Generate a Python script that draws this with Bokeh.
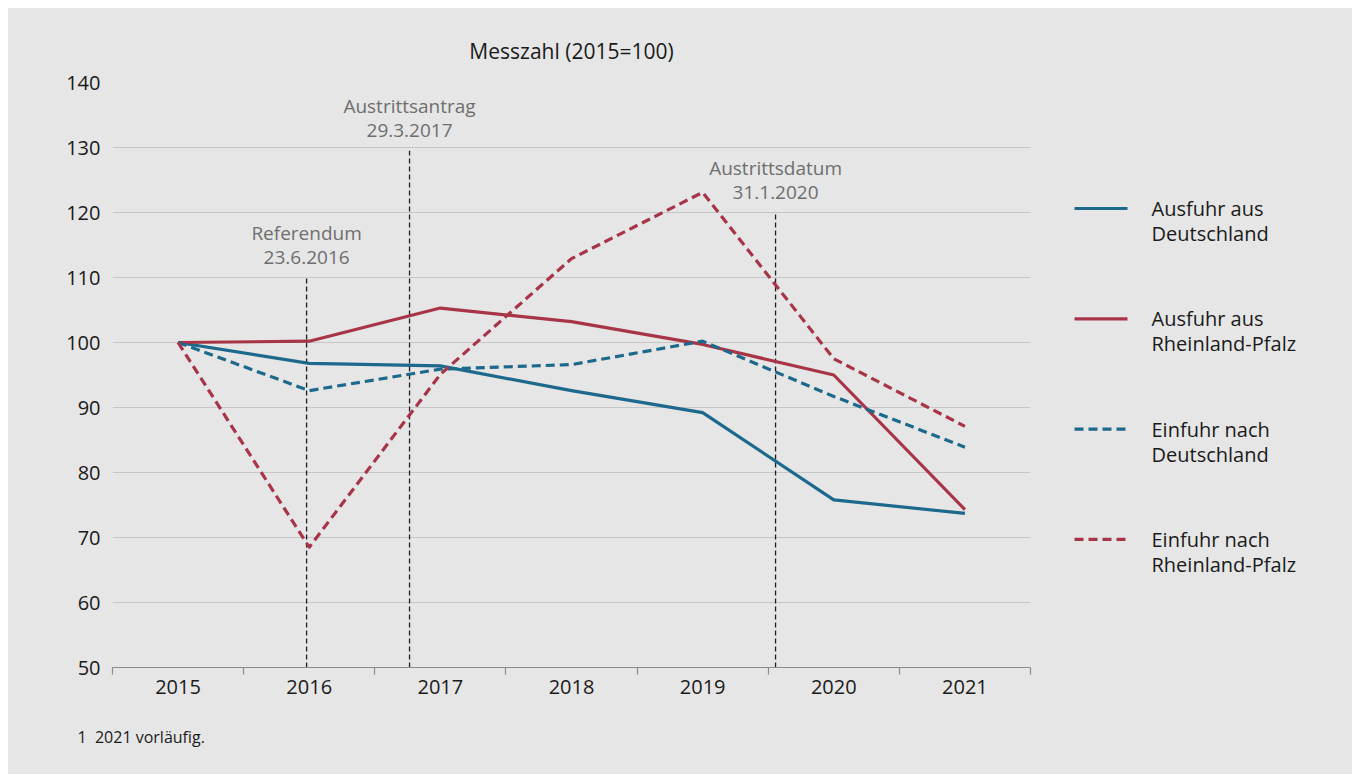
from bokeh.plotting import figure
from bokeh.models import Range1d, FixedTicker, Title
from bokeh.layouts import row
from bokeh.core.properties import value
from bokeh.embed import file_html
from bokeh.resources import INLINE

# ---------------- data ----------------
years = [2015, 2016, 2017, 2018, 2019, 2020, 2021]
year_labels = ["2015", "2016", "2017", "2018", "2019", "2020", "2021"]
ausfuhr_de = [100.0, 96.8, 96.4, 92.6, 89.2, 75.8, 73.7]
ausfuhr_rlp = [100.0, 100.2, 105.3, 103.2, 99.7, 95.0, 74.3]
einfuhr_de = [100.0, 92.6, 95.9, 96.6, 100.2, 91.7, 83.9]
einfuhr_rlp = [100.0, 68.5, 95.1, 112.9, 123.1, 97.5, 87.1]

series_names = [
    ("Ausfuhr aus", "Deutschland"),
    ("Ausfuhr aus", "Rheinland-Pfalz"),
    ("Einfuhr nach", "Deutschland"),
    ("Einfuhr nach", "Rheinland-Pfalz"),
]

event_names = ["Referendum", "Austrittsantrag", "Austrittsdatum"]
event_dates = ["23.6.2016", "29.3.2017", "31.1.2020"]
event_x = [2015.98, 2016.765, 2019.556]   # position on the year scale
event_top = [110.0, 129.5, 120.0]

y_ticks = [50, 60, 70, 80, 90, 100, 110, 120, 130, 140]
title_text = "Messzahl (2015=100)"
footnote = "1\u00a0\u00a02021 vorläufig."

# ---------------- styles ----------------
BG = "#e6e6e6"
BLUE = "#1c698c"
RED = "#a83448"
GRID = "#c6c6c6"
TXT = "#1a1a1a"
GRAYTXT = "#6e6e6e"
FONT = "Open Sans"
FS = "20px"

MAIN_W, H = 1050, 766
p = figure(width=MAIN_W, height=H, output_backend="svg", toolbar_location=None,
           x_range=Range1d(2014.5, 2021.5), y_range=Range1d(50, 140),
           min_border_left=104, min_border_right=28, min_border_top=74,
           min_border_bottom=107)
p.background_fill_color = None
p.border_fill_color = BG
p.outline_line_color = None

# title
p.title.text = title_text
p.title.align = "center"
p.title.text_font = FONT
p.title.text_font_size = "21px"
p.title.text_font_style = "normal"
p.title.text_color = TXT
p.title.standoff = 35

# x axis
xa = p.xaxis[0]
xa.ticker = FixedTicker(ticks=years, minor_ticks=[y - 0.5 for y in years] + [years[-1] + 0.5])
xa.major_label_overrides = {y: l for y, l in zip(years, year_labels)}
xa.major_tick_line_color = None
xa.major_tick_out = 0
xa.major_tick_in = 0
xa.minor_tick_line_color = "#8c8c8c"
xa.minor_tick_out = 7
xa.minor_tick_in = 0
xa.minor_tick_line_width = 1.2
xa.axis_line_color = "#8c8c8c"
xa.axis_line_width = 1.2
xa.major_label_standoff = 5
xa.major_label_text_font = FONT
xa.major_label_text_font_size = FS
xa.major_label_text_color = TXT

# y axis
ya = p.yaxis[0]
ya.ticker = FixedTicker(ticks=y_ticks)
ya.axis_line_color = None
ya.major_tick_line_color = None
ya.major_tick_out = 0
ya.minor_tick_line_color = None
ya.major_label_standoff = 12
ya.major_label_text_font = FONT
ya.major_label_text_font_size = FS
ya.major_label_text_color = TXT

p.xgrid.grid_line_color = None
p.ygrid.grid_line_color = GRID
p.ygrid.grid_line_width = 1.2

# event lines
p.segment(x0=event_x, y0=[50] * 3, x1=event_x, y1=event_top,
          line_color="#1e1e1e", line_width=1.3, line_dash="5 3")
p.text(x=event_x, y=event_top, text=event_dates, y_offset=-20,
       text_align="center", text_baseline="middle", text_color=GRAYTXT,
       text_font=value(FONT), text_font_size="19px")
p.text(x=event_x, y=event_top, text=event_names, y_offset=-45,
       text_align="center", text_baseline="middle", text_color=GRAYTXT,
       text_font=value(FONT), text_font_size="19px")

# series
styles = [(ausfuhr_de, BLUE, "solid"), (ausfuhr_rlp, RED, "solid"),
          (einfuhr_de, BLUE, "9 5"), (einfuhr_rlp, RED, "9 5")]
for vals, col, dash in styles:
    p.line(years, vals, line_color=col, line_width=3.2, line_dash=dash,
           line_join="round")

# footnote
p.add_layout(Title(text=footnote, align="left", offset=-35, standoff=54,
                   text_font=FONT, text_font_size="16px", text_color=TXT,
                   text_font_style="normal"), "below")

# ---------------- legend panel ----------------
# frame of this panel is aligned with the main frame (page y 82..667);
# coordinates below are page pixels (x from left, y from bottom of a 776px page)
LW = 294
lg = figure(width=LW, height=H, output_backend="svg", toolbar_location=None,
            x_range=Range1d(1058, 1058 + LW), y_range=Range1d(776 - 667, 776 - 82),
            x_axis_location=None, y_axis_location=None,
            min_border_left=0, min_border_right=0,
            min_border_top=74, min_border_bottom=107)
lg.background_fill_color = None
lg.border_fill_color = BG
lg.outline_line_color = None
lg.xgrid.visible = False
lg.ygrid.visible = False

first_y = 776 - 208
step = 110.3
for i, ((vals, col, dash), (l1, l2)) in enumerate(zip(styles, series_names)):
    yy = first_y - i * step
    lg.line([1074, 1127], [yy, yy], line_color=col, line_width=3.2, line_dash=dash)
    lg.text(x=[1151], y=[yy], text=[l1], text_baseline="middle", text_align="left",
            text_color=TXT, text_font=value(FONT), text_font_size=FS)
    lg.text(x=[1151], y=[yy - 25], text=[l2], text_baseline="middle", text_align="left",
            text_color=TXT, text_font=value(FONT), text_font_size=FS)

layout = row(p, lg, spacing=0)
layout.margin = (8, 0, 0, 8)
layout.styles = {"background-color": BG}
open("out.html", "w").write(file_html(layout, INLINE))
